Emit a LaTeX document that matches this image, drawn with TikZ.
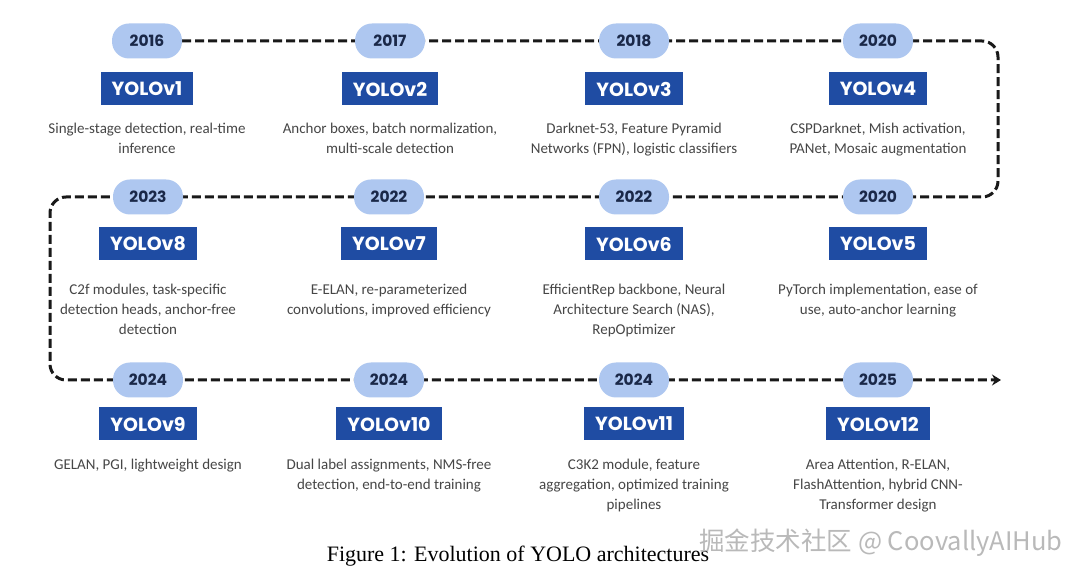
\documentclass[tikz,border=0pt]{standalone}
\usepackage{fontspec}
\setmainfont{Carlito}
\newfontfamily\headfont{Poppins}
\newfontfamily\capfont{Liberation Serif}
\newfontfamily\cjkfont{Noto Sans CJK SC}
\usetikzlibrary{arrows.meta, positioning, backgrounds}
\definecolor{pillblue}{RGB}{174,199,240}
\definecolor{boxblue}{RGB}{31,76,163}
\definecolor{yeartext}{RGB}{26,40,72}
\definecolor{desctext}{RGB}{70,70,70}

\begin{document}
\begin{tikzpicture}[
	x=1pt, y=-1pt,
	year/.style={rectangle, rounded corners=17pt, fill=pillblue, minimum width=70pt, minimum height=35pt, inner sep=0pt, font=\headfont\bfseries\fontsize{15.5}{18}\selectfont, text=yeartext},
	model/.style={rectangle, fill=boxblue, minimum height=33pt, inner xsep=11pt, inner ysep=0pt, font=\headfont\bfseries\fontsize{19}{21}\selectfont, text=white},
	desc/.style={align=center, anchor=north, inner sep=0pt, font=\fontsize{15}{20}\selectfont, text=desctext},
	timeline/.style={draw=black!90, line width=3pt, dash pattern=on 9pt off 4pt, rounded corners=16pt},
	]
	
	\useasboundingbox (0,0) rectangle (1080,577);
	
	% row 1
	\node[year] (y16) at (147,41) {2016};
	\node[year] (y17) at (390,41) {2017};
	\node[year] (y18) at (634,41) {2018};
	\node[year] (y20a) at (878,41) {2020};
	\node[model] (v1) at (147,89) {YOLOv1};
	\node[model] (v2) at (390,89) {YOLOv2};
	\node[model] (v3) at (634,89) {YOLOv3};
	\node[model] (v4) at (878,89) {YOLOv4};
	\node[desc] (d1) at (147,123) {Single-stage detection, real-time\\inference};
	\node[desc] (d2) at (390,123) {Anchor boxes, batch normalization,\\multi-scale detection};
	\node[desc] (d3) at (634,123) {Darknet-53, Feature Pyramid\\Networks (FPN), logistic classifiers};
	\node[desc] (d4) at (878,123) {CSPDarknet, Mish activation,\\PANet, Mosaic augmentation};
	
	% row 2
	\node[year] (y23) at (148,197) {2023};
	\node[year] (y22a) at (389,197) {2022};
	\node[year] (y22b) at (634,197) {2022};
	\node[year] (y20b) at (878,197) {2020};
	\node[model] (v8) at (148,244) {YOLOv8};
	\node[model] (v7) at (389,244) {YOLOv7};
	\node[model] (v6) at (634,244) {YOLOv6};
	\node[model] (v5) at (878,244) {YOLOv5};
	\node[desc] (d8) at (148,284) {C2f modules, task-specific\\detection heads, anchor-free\\detection};
	\node[desc] (d7) at (389,284) {E-ELAN, re-parameterized\\convolutions, improved efficiency};
	\node[desc] (d6) at (634,284) {EfficientRep backbone, Neural\\Architecture Search (NAS),\\RepOptimizer};
	\node[desc] (d5) at (878,284) {PyTorch implementation, ease of\\use, auto-anchor learning};
	
	% row 3
	\node[year] (y24a) at (148,380) {2024};
	\node[year] (y24b) at (389,380) {2024};
	\node[year] (y24c) at (634,380) {2024};
	\node[year] (y25) at (878,380) {2025};
	\node[model] (v9) at (148,424) {YOLOv9};
	\node[model] (v10) at (389,424) {YOLOv10};
	\node[model] (v11) at (634,424) {YOLOv11};
	\node[model] (v12) at (878,424) {YOLOv12};
	\node[desc] (d9) at (148,459) {GELAN, PGI, lightweight design};
	\node[desc] (d10) at (389,459) {Dual label assignments, NMS-free\\detection, end-to-end training};
	\node[desc] (d11) at (634,459) {C3K2 module, feature\\aggregation, optimized training\\pipelines};
	\node[desc] (d12) at (878,459) {Area Attention, R-ELAN,\\FlashAttention, hybrid CNN-\\Transformer design};
	
	% caption and mark
	\node[font=\capfont\fontsize{22}{26}\selectfont] (cap) at (518,556) {Figure 1: Evolution of YOLO architectures};
	\node[font=\cjkfont\fontsize{25.5}{28}\selectfont, text=gray!55] (mark) at (881,543) {掘金技术社区 @ CoovallyAIHub};
	
	\coordinate (rt) at (998,0);
	\coordinate (lf) at (50,0);
	\coordinate (tip) at (1001,0);
	
	\begin{scope}[on background layer]
		\fill[white] (0,0) rectangle (1080,577);
		\draw[timeline, -{Stealth[length=9pt, width=11pt, inset=3pt]}] (y16.east) -- (y20a.east -| rt) -- (y20b.east -| rt) -- (y23.west -| lf) -- (y24a.west -| lf) -- (y25.east -| tip);
	\end{scope}
	
\end{tikzpicture}
\end{document}
